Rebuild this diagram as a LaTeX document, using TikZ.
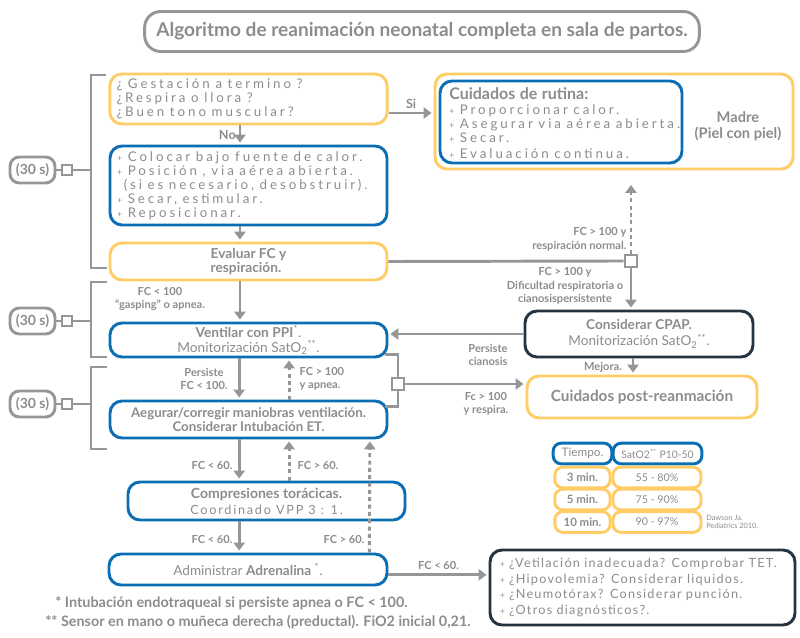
\documentclass[tikz,border=0pt]{standalone}
\usepackage{fontspec}
\setmainfont{Lato}
\newfontfamily\spaced[LetterSpace=22]{Lato}
\newfontfamily\midspaced[LetterSpace=14]{Lato}
\newfontfamily\halfspaced[LetterSpace=10]{Lato}
\usetikzlibrary{shapes.geometric, arrows.meta}

\definecolor{yel}{RGB}{255,204,102}
\definecolor{blu}{RGB}{10,110,180}
\definecolor{navy}{RGB}{37,50,64}
\definecolor{txt}{RGB}{140,140,140}
\definecolor{lin}{RGB}{150,150,150}

\newcommand{\itemplus}{{\fontsize{6.5}{6.5}\selectfont+}\ }
\newcommand{\listfont}{\spaced\fontsize{10}{10.5}\selectfont\spaceskip=4.2pt plus 1pt\relax}

\tikzstyle{ybox} = [rectangle, rounded corners=9pt, draw=yel, line width=2.2pt, text=txt, inner sep=0pt]
\tikzstyle{bbox} = [rectangle, rounded corners=9pt, draw=blu, line width=2.2pt, text=txt, inner sep=0pt]
\tikzstyle{nbox} = [rectangle, rounded corners=9pt, draw=navy, line width=2.2pt, text=txt, inner sep=0pt]
\tikzstyle{gbox} = [rectangle, rounded corners=7pt, draw=lin, line width=2.2pt, text=txt, inner sep=0pt]
\tikzstyle{sq} = [rectangle, draw=lin, line width=2pt, fill=white, minimum size=7.5pt, inner sep=0pt]
\tikzstyle{line} = [draw=lin, line width=2.2pt]
\tikzstyle{arrow} = [line, -{Triangle[length=6pt,width=8.5pt]}, shorten >=1.5pt]
\tikzstyle{dots} = [dash pattern=on 3pt off 2.5pt]
\tikzstyle{lbl} = [text=txt, font=\bfseries\fontsize{8.3}{10.3}\selectfont, align=center, inner sep=1pt]
\tikzstyle{body} = [font=\listfont, align=left]

\begin{document}
\begin{tikzpicture}[x=0.75pt, y=-0.75pt]
    \useasboundingbox (0,0) rectangle (800,638);

    % title
    \node [gbox, rounded corners=12pt, minimum width=416pt, minimum height=30pt, font=\bfseries\fontsize{14.3}{16}\selectfont] at (422,31.5) (title) {Algoritmo de reanimación neonatal completa en sala de partos.};

    % first step
    \node [ybox, body, minimum width=208pt, minimum height=37.5pt, text width=198pt] at (248.5,99) (q1) {\listfont ¿ Gestación a termino ?\\¿Respira o llora ?\\¿Buen tono muscular?};
    \node [bbox, body, minimum width=207.75pt, minimum height=59.25pt, text width=197pt] at (248.5,185.5) (a1) {\listfont\itemplus Colocar bajo fuente de calor.\\\itemplus Posición , via aérea abierta.\\\hspace*{0.5em}(si es necesario, desobstruir).\\\itemplus Secar, estimular.\\\itemplus Reposicionar.};
    \node [ybox, minimum width=207.75pt, minimum height=27.75pt, align=left, font=\bfseries\fontsize{10.3}{11}\selectfont] at (248.5,261.5) (eval) {Evaluar FC y\\respiración.};

    % routine care
    \node [ybox, minimum width=268.5pt, minimum height=71.25pt] at (614,121.5) (routo) {};
    \node [bbox, minimum width=181.5pt, minimum height=61.5pt] at (561,122) (routi) {};
    \node [anchor=west, text=txt, text width=178pt, align=left, inner sep=0pt] at (449,123) (routt) {{\bfseries\fontsize{12}{13}\selectfont Cuidados de rutina:}\\[1pt]{\listfont\itemplus Proporcionar calor.\\\itemplus Asegurar via aérea abierta.\\\itemplus Secar.\\\itemplus Evaluación continua.}};
    \node [text=txt, align=center, font=\bfseries\fontsize{11}{12}\selectfont] at (738,126) (madre) {Madre\\(Piel con piel)};

    % ventilation steps
    \node [bbox, minimum width=207.75pt, minimum height=25.5pt, align=center, font=\fontsize{10.3}{11}\selectfont] at (248.5,340) (vent) {\textbf{Ventilar con PPI}\textsuperscript{*}.\\Monitorización SatO\textsubscript{2}\textsuperscript{**}.};
    \node [bbox, minimum width=207.75pt, minimum height=27.75pt, align=center, font=\bfseries\fontsize{10}{11}\selectfont] at (248.5,419.5) (aseg) {Aegurar/corregir maniobras ventilación.\\Considerar Intubación ET.};
    \node [bbox, minimum width=207.75pt, minimum height=28.5pt, align=center] at (266.5,501) (comp) {{\bfseries\fontsize{10.5}{11.5}\selectfont Compresiones torácicas.}\\{\midspaced\fontsize{9.5}{11}\selectfont Coordinado VPP 3 : 1.}};
    \node [bbox, minimum width=208.5pt, minimum height=23.25pt, font=\fontsize{10.2}{11}\selectfont] at (248,569.5) (adren) {Administrar \textbf{Adrenalina} \textsuperscript{*}.};

    % right column
    \node [nbox, minimum width=171pt, minimum height=34.5pt, align=center, font=\fontsize{10.2}{12}\selectfont] at (639,334) (cpap) {\textbf{Considerar CPAP.}\\Monitorización SatO\textsubscript{2}\textsuperscript{**}.};
    \node [ybox, minimum width=172.5pt, minimum height=31.5pt, font=\bfseries\fontsize{11.5}{13}\selectfont] at (642,397) (post) {Cuidados post-reanmación};
    \node [nbox, minimum width=228.75pt, minimum height=56.25pt, text width=214pt, align=left, font=\halfspaced\fontsize{9.5}{11.9}\selectfont] at (642.5,587.5) (diag) {\itemplus ¿Vetilación inadecuada? Comprobar TET.\\\itemplus ¿Hipovolemia? Considerar liquidos.\\\itemplus ¿Neumotórax? Considerar punción.\\\itemplus ¿Otros diagnósticos?.};

    % SatO2 table
    \node [bbox, rounded corners=6pt, minimum width=44pt, minimum height=15.5pt, font=\fontsize{8.8}{9}\selectfont] at (582.5,453.5) (th1) {Tiempo.};
    \node [bbox, rounded corners=6pt, minimum width=66.5pt, minimum height=15.5pt, font=\fontsize{7.8}{8}\selectfont] at (657.5,453.5) (th2) {SatO2\textsuperscript{**} P10-50};
    \node [ybox, rounded corners=6pt, minimum width=41.5pt, minimum height=15.5pt, font=\bfseries\fontsize{8.6}{9}\selectfont] at (582.5,477.5) (r1a) {3 min.};
    \node [ybox, rounded corners=6pt, minimum width=66pt, minimum height=15.5pt, font=\fontsize{8}{9}\selectfont] at (657,477.5) (r1b) {55 - 80\%};
    \node [ybox, rounded corners=6pt, minimum width=41.5pt, minimum height=15.5pt, font=\bfseries\fontsize{8.6}{9}\selectfont] at (582.5,499.5) (r2a) {5 min.};
    \node [ybox, rounded corners=6pt, minimum width=66pt, minimum height=15.5pt, font=\fontsize{8}{9}\selectfont] at (657,499.5) (r2b) {75 - 90\%};
    \node [ybox, rounded corners=6pt, minimum width=41.5pt, minimum height=15.5pt, font=\bfseries\fontsize{8.6}{9}\selectfont] at (582.5,522) (r3a) {10 min.};
    \node [ybox, rounded corners=6pt, minimum width=66pt, minimum height=15.5pt, font=\fontsize{8}{9}\selectfont] at (657,522) (r3b) {90 - 97\%};
    \node [anchor=west, text=txt, align=left, inner sep=0pt, font=\fontsize{5.5}{5.8}\selectfont] at (706,522) (dawson) {Dawson Ja.\\Pediatrics 2010.};

    % 30 s brackets
    \node [gbox, minimum width=33.75pt, minimum height=19.5pt, font=\bfseries\fontsize{10.5}{11}\selectfont] at (32.5,170) (t1) {(30 s)};
    \node [gbox, minimum width=33.75pt, minimum height=19.5pt, font=\bfseries\fontsize{10.5}{11}\selectfont] at (32.5,321) (t2) {(30 s)};
    \node [gbox, minimum width=33.75pt, minimum height=19.5pt, font=\bfseries\fontsize{10.5}{11}\selectfont] at (32.5,404) (t3) {(30 s)};
    \node [sq] at (67,170) (s1) {};
    \node [sq] at (67,321) (s2) {};
    \node [sq] at (67,404) (s3) {};
    \coordinate (b1) at (91,170);
    \coordinate (b1a) at (106,75);
    \coordinate (b1b) at (107,268);
    \coordinate (b2) at (91,321);
    \coordinate (b2a) at (107,282);
    \coordinate (b2b) at (107,357);
    \coordinate (b3) at (91,404);
    \coordinate (b3a) at (107,367);
    \coordinate (b3b) at (107,449);
    \draw [line] (t1) -- (s1);
    \draw [line] (s1) -- (b1);
    \draw [line] (b1a) -| (b1) |- (b1b);
    \draw [line] (t2) -- (s2);
    \draw [line] (s2) -- (b2);
    \draw [line] (b2a) -| (b2) |- (b2b);
    \draw [line] (t3) -- (s3);
    \draw [line] (s3) -- (b3);
    \draw [line] (b3a) -| (b3) |- (b3b);

    % evaluation split
    \node [sq, minimum size=9pt] at (631,261) (sqe) {};
    \node [sq, minimum size=9pt] at (398,384) (sqv) {};
    \coordinate (rtip) at (631,183);

    % connectors
    \draw [arrow] ([xshift=-6.4pt]q1.south) -- node[lbl, left, xshift=-1pt, font=\bfseries\fontsize{9.5}{10}\selectfont] (lno) {No} ([xshift=-6.4pt]q1.south |- a1.north);
    \draw [arrow] ([yshift=-10.5pt]q1.east) -- node[lbl, above, yshift=1pt, font=\bfseries\fontsize{9.5}{10}\selectfont] (lsi) {Si} ([yshift=-10.5pt]q1.east -| routo.west);
    \draw [arrow] ([xshift=-6.4pt]a1.south) -- ([xshift=-6.4pt]eval.north);
    \draw [line] (eval.east) -- (sqe.west);
    \draw [arrow, dots] (sqe.north) -- (rtip);
    \draw [arrow] (sqe.south) -- (sqe |- cpap.north);
    \draw [arrow] ([xshift=-6.4pt]eval.south) -- ([xshift=-6.4pt]vent.north);
    \draw [arrow] (cpap.west) -- (cpap.west -| vent.east);
    \draw [arrow] ([xshift=-4.5pt]cpap.south) -- ([xshift=-4.5pt]cpap.south |- post.north);
    \draw [line] ([xshift=-2.3pt,yshift=3pt]vent.south east) -| (sqv.north);
    \draw [line] (sqv.south) |- ([xshift=-2.3pt,yshift=-5.3pt]aseg.north east);
    \draw [arrow] (sqv.east) -- (sqv -| post.west);
    \draw [arrow] ([xshift=-7pt]vent.south) -- ([xshift=-7pt]aseg.north);
    \draw [arrow, dots] ([xshift=30.4pt]aseg.north) -- ([xshift=30.4pt]vent.south);
    \draw [arrow] ([xshift=-7pt]aseg.south) -- ([xshift=-7pt]aseg.south |- comp.north);
    \draw [arrow, dots] ([xshift=30.4pt]aseg.south |- comp.north) -- ([xshift=30.4pt]aseg.south);
    \draw [arrow] ([xshift=-7pt]aseg.south |- comp.south) -- ([xshift=-7pt]aseg.south |- adren.north);
    \draw [arrow, dots] ([xshift=91pt]adren.north) -- ([xshift=91pt]aseg.south);
    \draw [arrow] ([yshift=-4pt]adren.east) -- node[lbl, above, yshift=2pt] (lc60c) {FC < 60.} ([yshift=-4pt]adren.east -| diag.west);

    % labels
    \node [lbl, anchor=south east, align=right] at (628,253) (lnorm) {FC > 100 y\\respiración normal.};
    \node [lbl] at (565,286) (ldif) {FC > 100 y\\Dificultad respiratoria o\\cianosispersistente};
    \node [lbl] at (160,299) (lgasp) {FC < 100\\``gasping'' o apnea.};
    \node [lbl] at (488,355) (lcian) {Persiste\\cianosis};
    \node [lbl] at (603,367) (lmej) {Mejora.};
    \node [lbl] at (486,404) (lresp) {Fc > 100\\y respira.};
    \node [lbl] at (204,379) (lpers) {Persiste\\FC < 100.};
    \node [lbl, anchor=west, align=left] at (298,379) (lapn) {FC > 100\\y apnea.};
    \node [lbl] at (212,465) (lc60a) {FC < 60.};
    \node [lbl, anchor=west] at (296,465) (lg60a) {FC > 60.};
    \node [lbl] at (212,539) (lc60b) {FC < 60.};
    \node [lbl] at (344,539) (lg60b) {FC > 60.};

    % footnotes
    \node [anchor=west, text=txt, inner sep=0pt, font=\bfseries\fontsize{10.8}{12}\selectfont] at (55,603) (fn1) {* Intubación endotraqueal si persiste apnea o FC < 100.};
    \node [anchor=west, text=txt, inner sep=0pt, font=\bfseries\fontsize{10.8}{12}\selectfont] at (45,622) (fn2) {** Sensor en mano o muñeca derecha (preductal). FiO2 inicial 0,21.};
\end{tikzpicture}
\end{document}
